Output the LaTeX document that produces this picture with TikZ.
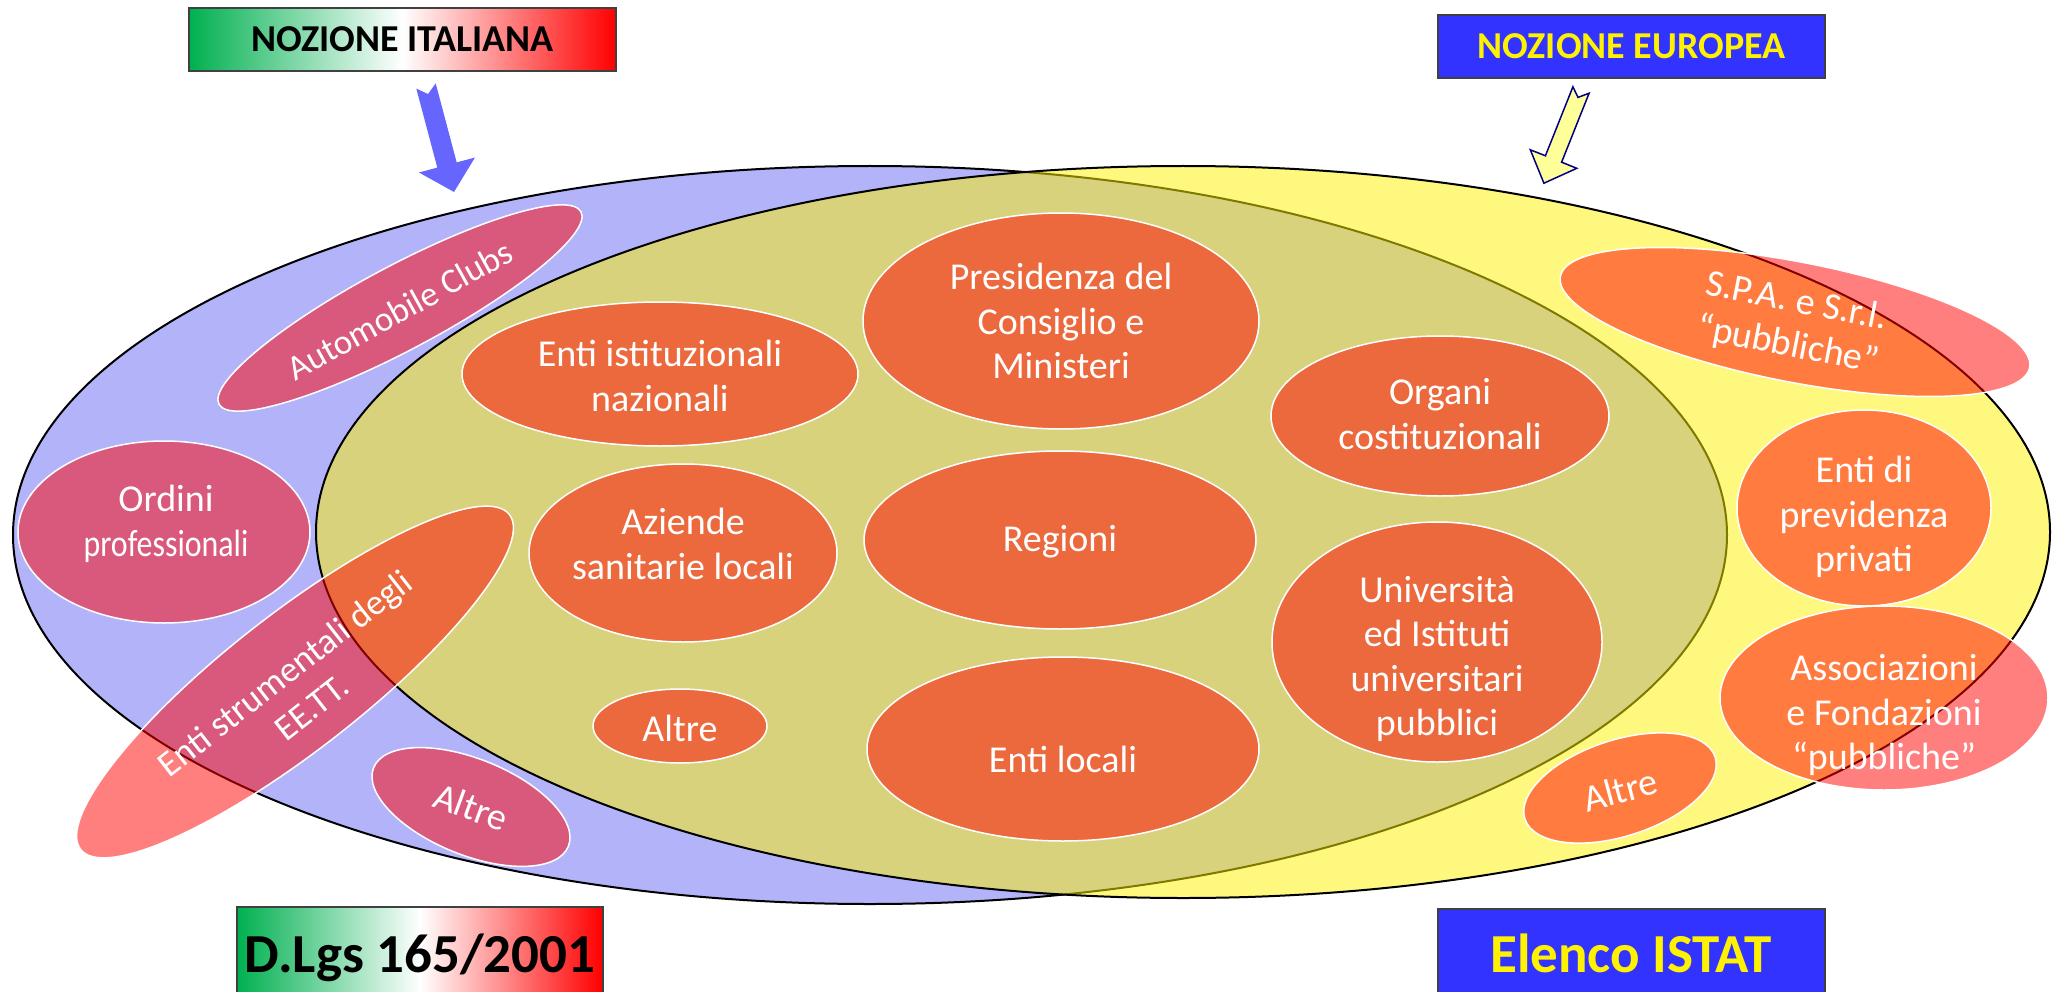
\documentclass[tikz,border=0pt]{standalone}
\usepackage{fontspec}
\setmainfont{Carlito}
\usetikzlibrary{shapes.geometric}
\definecolor{bigblue}{RGB}{179,179,250}
\definecolor{arrowblue}{RGB}{102,102,255}
\definecolor{boxblue}{RGB}{51,51,255}
\definecolor{itgreen}{RGB}{0,176,80}
\definecolor{lightyel}{RGB}{255,255,153}
\definecolor{navyline}{RGB}{0,0,128}
\begin{document}
\begin{tikzpicture}[x=1pt,y=-1pt,
  blob/.style={fill=red, fill opacity=0.5, draw=white, draw opacity=1, line width=1.5pt},
  lbl/.style={text=white, text opacity=1, align=center, inner sep=0pt, font=\fontsize{38}{44.5}\selectfont},
  itbox/.style={draw=black!75, line width=1.5pt, left color=itgreen, right color=red, middle color=white},
  eubox/.style={draw=black!75, line width=1.5pt, fill=boxblue},
  boxtxt/.style={inner sep=0pt, font=\fontsize{38}{40}\selectfont\bfseries},
  bigtxt/.style={inner sep=0pt, font=\fontsize{55}{60}\selectfont\bfseries}
]
\useasboundingbox (0,0) rectangle (2060,992);

% big sets
\path[fill=bigblue, draw=black, line width=2pt] (870,535) ellipse [x radius=857pt, y radius=369pt];
\path[fill=yellow, fill opacity=0.5, draw=black, line width=2pt] (1183,532) ellipse [x radius=867pt, y radius=366pt];

% centres
\coordinate (cAuto) at (400,308);
\coordinate (cOrd) at (164,532);
\coordinate (cStr) at (295,682);
\coordinate (cAltL) at (471,807);
\coordinate (cIst) at (660,374);
\coordinate (cPres) at (1061,321);
\coordinate (cOrg) at (1440,416);
\coordinate (cAsl) at (683,553);
\coordinate (cReg) at (1060,540);
\coordinate (cUni) at (1437,642);
\coordinate (cAltM) at (680,726);
\coordinate (cLoc) at (1063,749);
\coordinate (cSpa) at (1795,322);
\coordinate (cPrev) at (1864,508);
\coordinate (cAss) at (1884,698);
\coordinate (cAltR) at (1620,788);

% blobs
\path[blob] (cAuto) ellipse [x radius=205pt, y radius=42pt, rotate=28];
\path[blob] (cOrd) ellipse [x radius=146pt, y radius=91pt];
\path[blob] (cStr) ellipse [x radius=272pt, y radius=68pt, rotate=38];
\path[blob] (cAltL) ellipse [x radius=105pt, y radius=48pt, rotate=-22];
\path[blob] (cIst) ellipse [x radius=198pt, y radius=72pt];
\path[blob] (cPres) ellipse [x radius=198pt, y radius=108pt];
\path[blob] (cOrg) ellipse [x radius=169pt, y radius=80pt];
\path[blob] (cAsl) ellipse [x radius=154pt, y radius=89pt];
\path[blob] (cReg) ellipse [x radius=196pt, y radius=89pt];
\path[blob] (cUni) ellipse [x radius=165pt, y radius=120pt];
\path[blob] (cAltM) ellipse [x radius=87pt, y radius=37pt];
\path[blob] (cLoc) ellipse [x radius=196pt, y radius=92pt];
\path[blob] (cSpa) ellipse [x radius=239pt, y radius=60pt, rotate=-11];
\path[blob] (cPrev) ellipse [x radius=127pt, y radius=98pt];
\path[blob] (cAss) ellipse [x radius=164pt, y radius=92pt];
\path[blob] (cAltR) ellipse [x radius=100pt, y radius=48pt, rotate=18];

% labels
\node[lbl, rotate=29, font=\fontsize{35}{40}\selectfont] (tAuto) at (400,310) {Automobile Clubs};
\node[lbl] (tOrd) at (166,524) {Ordini\\\scalebox{0.84}[1]{professionali}};
\node[lbl, rotate=38, font=\fontsize{36}{43}\selectfont] (tStr) at (298,690) {Enti strumentali degli\\EE.TT.};
\node[lbl, rotate=-20] (tAltL) at (471,807) {Altre};
\node[lbl] (tIst) at (660,376) {Enti istituzionali\\nazionali};
\node[lbl] (tPres) at (1061,321) {Presidenza del\\Consiglio e\\Ministeri};
\node[lbl] (tOrg) at (1440,414) {Organi\\costituzionali};
\node[lbl] (tAsl) at (683,544) {Aziende\\sanitarie locali};
\node[lbl] (tReg) at (1060,542) {Regioni};
\node[lbl] (tUni) at (1437,659) {Università\\ed Istituti\\universitari\\pubblici};
\node[lbl] (tAltM) at (680,728) {Altre};
\node[lbl] (tLoc) at (1063,759) {Enti locali};
\node[lbl, rotate=-11] (tSpa) at (1792,324) {S.P.A. e S.r.l.\\“pubbliche”};
\node[lbl] (tPrev) at (1864,517) {Enti di\\previdenza\\privati};
\node[lbl] (tAss) at (1884,715) {Associazioni\\e Fondazioni\\“pubbliche”};
\node[lbl, rotate=15] (tAltR) at (1620,790) {Altre};

% title boxes
\node[itbox, minimum width=427pt, minimum height=63pt, inner sep=0pt] (bIta) at (402.5,39.5) {};
\node[boxtxt, text=black] (tIta) at (bIta.center) {NOZIONE ITALIANA};
\node[eubox, minimum width=387pt, minimum height=63pt, inner sep=0pt] (bEu) at (1631.5,46.5) {};
\node[boxtxt, text=yellow] (tEu) at (bEu.center) {NOZIONE EUROPEA};
\node[itbox, minimum width=366pt, minimum height=100pt, inner sep=0pt] (bDl) at (420,957) {};
\node[bigtxt, text=black] (tDl) at (420,958) {D.Lgs 165/2001};
\node[eubox, minimum width=387pt, minimum height=100pt, inner sep=0pt] (bIs) at (1631.5,959) {};
\node[bigtxt, text=yellow] (tIs) at (1631,953) {Elenco ISTAT};

% block arrows
\path[fill=arrowblue] (416.3,88.6) -- (428,94) -- (435.7,83.4) -- (456.7,162.4) -- (475,157.5) -- (454,192) -- (419,172.5) -- (437.3,167.6) -- cycle;
\path[fill=lightyel, draw=navyline, line width=1.5pt] (1572.9,86.8) -- (1578,97.4) -- (1589.1,93.2) -- (1561.6,162.2) -- (1576.8,168.3) -- (1543.9,183.2) -- (1530.3,149.8) -- (1545.4,155.8) -- cycle;
\end{tikzpicture}
\end{document}
